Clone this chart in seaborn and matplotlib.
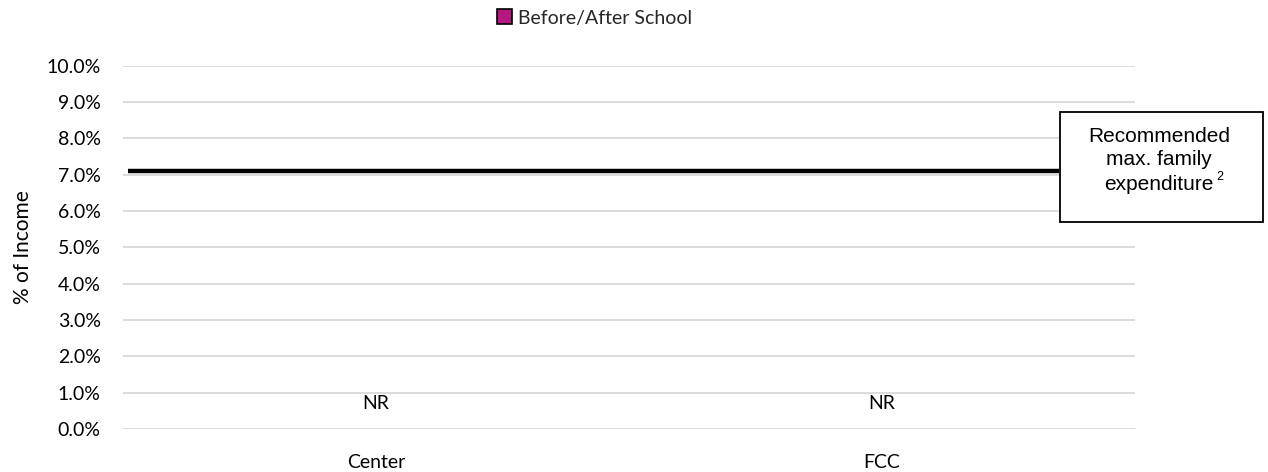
import matplotlib
matplotlib.use("Agg")
import matplotlib.pyplot as plt
import matplotlib.ticker as mticker
from matplotlib.patches import Patch, Rectangle
import seaborn as sns
import pandas as pd

# ---------------------------------------------------------------------------
# Data
# ---------------------------------------------------------------------------

categories   = ["Center", "FCC"]
series_name  = "Before/After School"
values       = [0.0, 0.0]          # not reported -> drawn as empty bars
bar_labels   = ["NR", "NR"]
recommended  = 0.071               # recommended max. family expenditure
box_lines    = ["Recommended", "max. family", "expenditure"]
yticks       = [i / 100 for i in range(0, 11)]

# ---------------------------------------------------------------------------
# Style
# ---------------------------------------------------------------------------

BAR_COLOR   = "#B5197F"
GRID_COLOR  = "#D9D9D9"
TEXT_COLOR  = "#000000"
MAIN_FONT   = ["Lato", "DejaVu Sans"]
BOX_FONT    = ["Liberation Sans", "DejaVu Sans"]
FS          = 14

sns.set_theme(style="white")
plt.rcParams["font.family"] = MAIN_FONT

df = pd.DataFrame({"category": categories, "value": values, "series": series_name})

fig = plt.figure(figsize=(12.68, 4.72), dpi=100)
ax = fig.add_axes([0.097, 0.091, 0.798, 0.770])

sns.barplot(
    data=df, x="category", y="value", hue="series",
    palette={series_name: BAR_COLOR}, edgecolor="none",
    width=0.5, legend=False, ax=ax,
)

ax.bar_label(ax.containers[0], labels=bar_labels, padding=12,
             fontsize=FS, color=TEXT_COLOR)

# recommended threshold line, stops at the callout box
ax.hlines(recommended, -0.49, 1.35, color="black", linewidth=3.2, zorder=4)

ax.set_ylim(0, 0.10)
ax.set_xlim(-0.5, 1.5)
ax.set_yticks(yticks)
ax.yaxis.set_major_formatter(mticker.FuncFormatter(lambda v, _: f"{v * 100:.1f}%"))
ax.grid(axis="y", color=GRID_COLOR, linewidth=1.3)
ax.set_axisbelow(True)
for spine in ax.spines.values():
    spine.set_visible(False)
ax.tick_params(axis="both", length=0, labelsize=FS, colors=TEXT_COLOR)
ax.tick_params(axis="x", pad=18)
ax.tick_params(axis="y", pad=16)
ax.set_xlabel("")
ax.set_ylabel("% of Income", fontsize=15, color=TEXT_COLOR, labelpad=10)

# legend
handle = Patch(facecolor=BAR_COLOR, edgecolor="black", linewidth=1.2)
fig.legend([handle], [series_name], loc="center", bbox_to_anchor=(0.469, 0.962),
           frameon=False, fontsize=FS, handlelength=0.8, handleheight=0.8,
           handletextpad=0.3)

# callout box
fig.patches.append(Rectangle((0.836, 0.530), 0.160, 0.233, transform=fig.transFigure,
                             facecolor="white", edgecolor="black", linewidth=1.3, zorder=5))
for txt, y in zip(box_lines, [0.699, 0.650, 0.598]):
    fig.text(0.914, y, txt, ha="center", va="baseline", fontsize=15,
             family=BOX_FONT, color=TEXT_COLOR, zorder=6)
fig.text(0.959, 0.619, "2", ha="left", va="baseline", fontsize=9,
         family=BOX_FONT, color=TEXT_COLOR, zorder=6)

fig.savefig("out.png", dpi=100)
